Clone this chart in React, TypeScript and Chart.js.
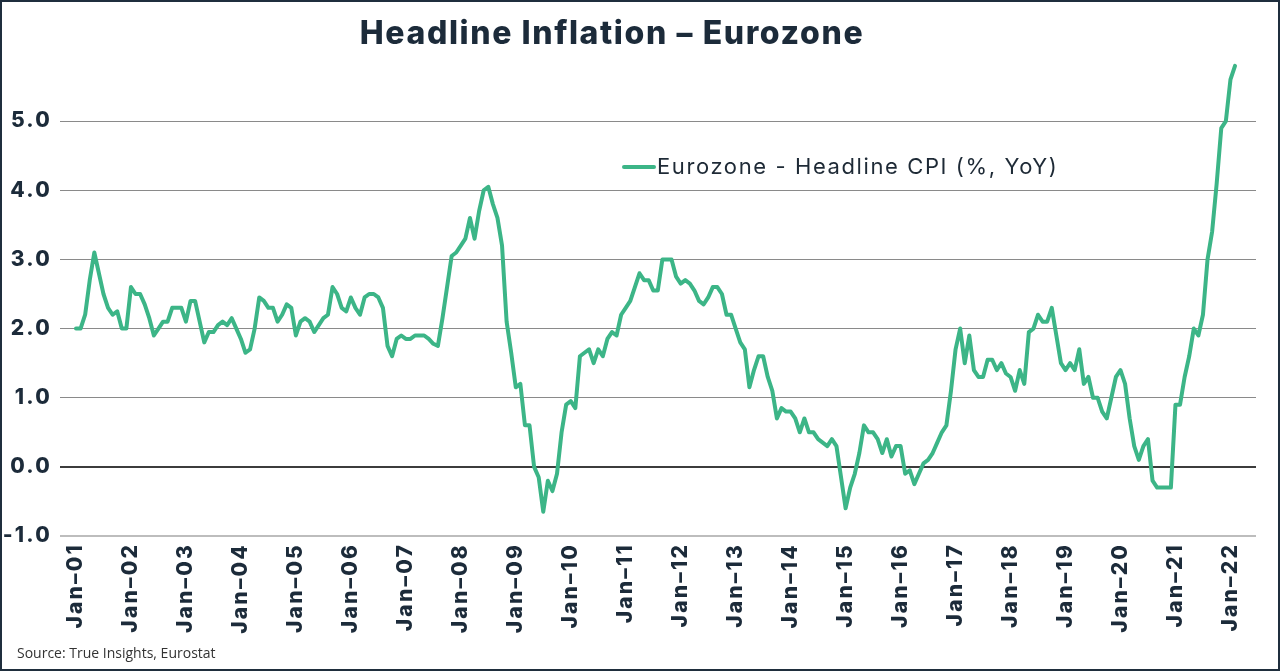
import React, { useEffect, useRef } from "react";
import { Chart, registerables } from "chart.js";

Chart.register(...registerables);

// Eurozone headline HICP, % YoY, monthly (Jan 2001 - Feb 2022)
const y2001 = [2.0, 2.0, 2.2, 2.7, 3.1, 2.8, 2.5, 2.3, 2.2, 2.25, 2.0, 2.0];
const y2002 = [2.6, 2.5, 2.5, 2.35, 2.15, 1.9, 2.0, 2.1, 2.1, 2.3, 2.3, 2.3];
const y2003 = [2.1, 2.4, 2.4, 2.1, 1.8, 1.95, 1.95, 2.05, 2.1, 2.05, 2.15, 2.0];
const y2004 = [1.85, 1.65, 1.7, 2.0, 2.45, 2.4, 2.3, 2.3, 2.1, 2.2, 2.35, 2.3];
const y2005 = [1.9, 2.1, 2.15, 2.1, 1.95, 2.05, 2.15, 2.2, 2.6, 2.5, 2.3, 2.25];
const y2006 = [2.45, 2.3, 2.2, 2.45, 2.5, 2.5, 2.45, 2.3, 1.75, 1.6, 1.85, 1.9];
const y2007 = [1.85, 1.85, 1.9, 1.9, 1.9, 1.85, 1.78, 1.75, 2.15, 2.6, 3.05, 3.1];
const y2008 = [3.2, 3.3, 3.6, 3.3, 3.7, 4.0, 4.05, 3.8, 3.6, 3.2, 2.1, 1.65];
const y2009 = [1.15, 1.2, 0.6, 0.6, 0.0, -0.15, -0.65, -0.2, -0.35, -0.1, 0.5, 0.9];
const y2010 = [0.95, 0.85, 1.6, 1.65, 1.7, 1.5, 1.7, 1.6, 1.85, 1.95, 1.9, 2.2];
const y2011 = [2.3, 2.4, 2.6, 2.8, 2.7, 2.7, 2.55, 2.55, 3.0, 3.0, 3.0, 2.75];
const y2012 = [2.65, 2.7, 2.65, 2.55, 2.4, 2.35, 2.45, 2.6, 2.6, 2.5, 2.2, 2.2];
const y2013 = [2.0, 1.8, 1.7, 1.15, 1.4, 1.6, 1.6, 1.3, 1.1, 0.7, 0.85, 0.8];
const y2014 = [0.8, 0.7, 0.5, 0.7, 0.5, 0.5, 0.4, 0.35, 0.3, 0.4, 0.3, -0.15];
const y2015 = [-0.6, -0.3, -0.1, 0.2, 0.6, 0.5, 0.5, 0.4, 0.2, 0.4, 0.15, 0.3];
const y2016 = [0.3, -0.1, -0.05, -0.25, -0.1, 0.05, 0.1, 0.2, 0.35, 0.5, 0.6, 1.1];
const y2017 = [1.7, 2.0, 1.5, 1.9, 1.4, 1.3, 1.3, 1.55, 1.55, 1.4, 1.5, 1.35];
const y2018 = [1.3, 1.1, 1.4, 1.2, 1.95, 2.0, 2.2, 2.1, 2.1, 2.3, 1.9, 1.5];
const y2019 = [1.4, 1.5, 1.4, 1.7, 1.2, 1.3, 1.0, 1.0, 0.8, 0.7, 1.0, 1.3];
const y2020 = [1.4, 1.2, 0.7, 0.3, 0.1, 0.3, 0.4, -0.2, -0.3, -0.3, -0.3, -0.3];
const y2021 = [0.9, 0.9, 1.3, 1.6, 2.0, 1.9, 2.2, 3.0, 3.4, 4.1, 4.9, 5.0];
const y2022 = [5.6, 5.8];

const series = [
  ...y2001, ...y2002, ...y2003, ...y2004, ...y2005, ...y2006, ...y2007, ...y2008,
  ...y2009, ...y2010, ...y2011, ...y2012, ...y2013, ...y2014, ...y2015, ...y2016,
  ...y2017, ...y2018, ...y2019, ...y2020, ...y2021, ...y2022,
];

const seriesLabel = "Eurozone - Headline CPI (%, YoY)";
const titleText = "Headline Inflation – Eurozone";
const sourceText = "Source: True Insights, Eurostat";

// x tick labels, one per January (every 12 months)
const tickLabels = [
  "Jan–01", "Jan–02", "Jan–03", "Jan–04", "Jan–05", "Jan–06", "Jan–07", "Jan–08",
  "Jan–09", "Jan–10", "Jan–11", "Jan–12", "Jan–13", "Jan–14", "Jan–15", "Jan–16",
  "Jan–17", "Jan–18", "Jan–19", "Jan–20", "Jan–21", "Jan–22",
];
const yTicks = [-1, 0, 1, 2, 3, 4, 5];

const LINE_COLOR = "#3cb587";
const TEXT_COLOR = "#1c2b3a";
const AXIS_SPACING = "2.2px";

const spacingPlugin = {
  id: "spacing",
  beforeLayout(chart: any) {
    (chart.ctx as any).letterSpacing = AXIS_SPACING;
  },
  beforeDraw(chart: any) {
    (chart.ctx as any).letterSpacing = AXIS_SPACING;
  },
};

const overlayPlugin = {
  id: "overlay",
  afterDraw(chart: any) {
    const ctx = chart.ctx as any;
    ctx.save();
    // title
    ctx.fillStyle = TEXT_COLOR;
    ctx.letterSpacing = "1.6px";
    ctx.font = "800 32px Inter, 'Noto Sans', sans-serif";
    ctx.textAlign = "center";
    ctx.textBaseline = "middle";
    ctx.fillText(titleText, 610, 32);
    // legend
    ctx.strokeStyle = LINE_COLOR;
    ctx.lineWidth = 4;
    ctx.lineCap = "round";
    ctx.beginPath();
    ctx.moveTo(622, 165);
    ctx.lineTo(652, 165);
    ctx.stroke();
    ctx.fillStyle = "#1e2a36";
    ctx.letterSpacing = "1.6px";
    ctx.font = "400 22px Inter, 'Noto Sans', sans-serif";
    ctx.textAlign = "left";
    ctx.fillText(seriesLabel, 655, 165);
    // source
    ctx.fillStyle = "#333333";
    ctx.letterSpacing = "0px";
    ctx.font = "400 14px 'Open Sans', sans-serif";
    ctx.fillText(sourceText, 15, 652);
    ctx.restore();
  },
};

export default function App() {
  const canvasRef = useRef<HTMLCanvasElement | null>(null);

  useEffect(() => {
    document.body.style.margin = "0";
    const canvas = canvasRef.current;
    if (!canvas) return;
    const points = series.map((v, i) => ({ x: i, y: v }));
    const chart = new Chart(canvas, {
      type: "line",
      data: {
        datasets: [
          {
            label: seriesLabel,
            data: points,
            borderColor: LINE_COLOR,
            backgroundColor: LINE_COLOR,
            borderWidth: 4,
            pointRadius: 0,
            tension: 0,
            borderJoinStyle: "round",
            borderCapStyle: "round",
          },
        ],
      },
      options: {
        responsive: false,
        animation: false,
        devicePixelRatio: 1,
        layout: { padding: { left: 0, right: 22, top: 50, bottom: 0 } },
        plugins: {
          legend: { display: false },
          title: { display: false },
          tooltip: { enabled: false },
        },
        scales: {
          x: {
            type: "linear",
            min: -3.49,
            max: 257.58,
            grid: { display: false, drawTicks: false },
            border: { display: false },
            afterBuildTicks: (axis: any) => {
              axis.ticks = tickLabels.map((_, k) => ({ value: k * 12 }));
            },
            afterFit: (axis: any) => {
              axis.height = 133;
            },
            ticks: {
              autoSkip: false,
              minRotation: 90,
              maxRotation: 90,
              padding: 7,
              color: TEXT_COLOR,
              font: { family: "Inter, 'Noto Sans', sans-serif", weight: "800", size: 21 },
              callback: (value: any) => tickLabels[Math.round(Number(value) / 12)] ?? "",
            },
          },
          y: {
            type: "linear",
            min: -1,
            max: 6,
            afterBuildTicks: (axis: any) => {
              axis.ticks = yTicks.map((v) => ({ value: v }));
            },
            afterFit: (axis: any) => {
              axis.width = 58;
            },
            border: { display: false },
            grid: {
              drawTicks: false,
              color: (c: any) =>
                c.tick && c.tick.value === 0 ? "#3c3c3c" : c.tick && c.tick.value === -1 ? "#bdbdbd" : "#8a8a8a",
              lineWidth: (c: any) => (c.tick && (c.tick.value === 0 || c.tick.value === -1) ? 2 : 1),
            },
            ticks: {
              padding: 8,
              color: TEXT_COLOR,
              font: { family: "Inter, 'Noto Sans', sans-serif", weight: "800", size: 21 },
              callback: (value: any) => Number(value).toFixed(1),
            },
          },
        },
      },
      plugins: [spacingPlugin, overlayPlugin],
    });
    return () => chart.destroy();
  }, []);

  return (
    <div
      style={{
        width: 1280,
        height: 671,
        border: "2px solid #1f2e3d",
        boxSizing: "border-box",
        background: "#ffffff",
        overflow: "hidden",
      }}
    >
      <canvas ref={canvasRef} width={1276} height={667} style={{ display: "block", width: 1276, height: 667 }} />
    </div>
  );
}
